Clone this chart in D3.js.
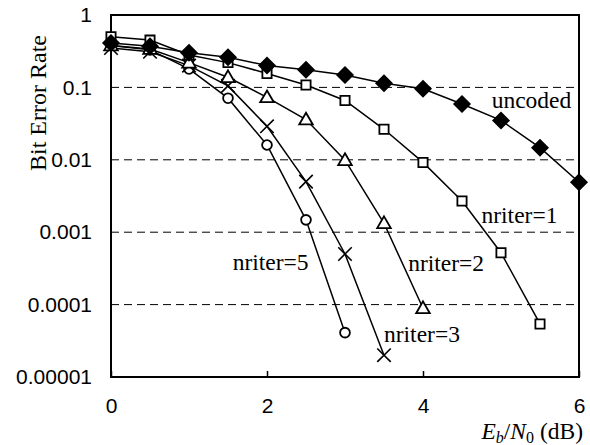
<!DOCTYPE html>
<html>
<head>
<meta charset="utf-8">
<script src="https://cdn.jsdelivr.net/npm/d3@7"></script>
<style>
body { margin: 0; background: #fff; }
svg { display: block; }
</style>
</head>
<body>
<svg width="590" height="445"></svg>
<script>
// data
var ebno = [0, 0.5, 1, 1.5, 2, 2.5, 3, 3.5, 4, 4.5, 5, 5.5, 6];
var uncoded = [0.41, 0.37, 0.30, 0.26, 0.20, 0.175, 0.148, 0.114, 0.096, 0.059, 0.035, 0.0147, 0.0049];
var nriter1 = [0.50, 0.45, 0.28, 0.22, 0.156, 0.108, 0.066, 0.0264, 0.0092, 0.0027, 0.00052, 0.000054];
var nriter2 = [0.38, 0.34, 0.22, 0.138, 0.073, 0.036, 0.0099, 0.00133, 0.000089];
var nriter3 = [0.35, 0.31, 0.20, 0.105, 0.029, 0.005, 0.0005, 0.00002];
var nriter5 = [0.38, 0.33, 0.18, 0.071, 0.016, 0.00148, 0.000041];
var yTicks = [1, 0.1, 0.01, 0.001, 0.0001, 0.00001];
var yTickLabels = ["1", "0.1", "0.01", "0.001", "0.0001", "0.00001"];
var xTicks = [0, 2, 4, 6];

var svg = d3.select("svg");
var pLeft = 111, pRight = 579, pTop = 15, pBottom = 377;

var x = d3.scaleLinear().domain([0, 6]).range([pLeft, pRight]);
var y = d3.scaleLog().domain([0.00001, 1]).range([pBottom, pTop]);

// dashed grid lines
svg.selectAll(".grid")
  .data([0.1, 0.01, 0.001, 0.0001])
  .enter().append("line")
  .attr("x1", pLeft).attr("x2", pRight)
  .attr("y1", d => y(d)).attr("y2", d => y(d))
  .attr("stroke", "#000")
  .attr("stroke-width", 1)
  .attr("stroke-dasharray", "8,5");

// y axis labels
svg.append("g")
  .attr("transform", "translate(" + pLeft + ",0)")
  .call(d3.axisLeft(y).tickValues(yTicks).tickSize(0).tickPadding(19)
    .tickFormat((d, i) => yTickLabels[i]))
  .call(g => g.select(".domain").remove())
  .selectAll("text")
  .attr("font-family", "Liberation Sans, Arial, sans-serif")
  .attr("font-size", 21)
  .attr("fill", "#000");

// x axis: inward ticks, labels below
svg.append("g")
  .attr("transform", "translate(0," + pBottom + ")")
  .call(d3.axisBottom(x).tickValues(xTicks).tickSize(-6).tickPadding(21).tickFormat(d3.format("d")))
  .call(g => g.select(".domain").remove())
  .call(g => g.selectAll("line").attr("stroke", "#000").attr("stroke-width", 1.5))
  .selectAll("text")
  .attr("font-family", "Liberation Sans, Arial, sans-serif")
  .attr("font-size", 21)
  .attr("fill", "#000");

// frame
svg.append("rect")
  .attr("x", pLeft).attr("y", pTop)
  .attr("width", pRight - pLeft).attr("height", pBottom - pTop)
  .attr("fill", "none")
  .attr("stroke", "#000")
  .attr("stroke-width", 2);

var line = d3.line()
  .x((d, i) => x(ebno[i]))
  .y(d => y(d));

var series = [
  {name: "uncoded", vals: uncoded, mark: "diamond"},
  {name: "nriter1", vals: nriter1, mark: "square"},
  {name: "nriter2", vals: nriter2, mark: "triangle"},
  {name: "nriter3", vals: nriter3, mark: "cross"},
  {name: "nriter5", vals: nriter5, mark: "circle"}
];

var symbols = {
  diamond: d3.symbol().type(d3.symbolSquare).size(120),
  square: d3.symbol().type(d3.symbolSquare).size(85),
  triangle: d3.symbol().type(d3.symbolTriangle).size(80),
  cross: d3.symbol().type(d3.symbolTimes).size(120),
  circle: d3.symbol().type(d3.symbolCircle).size(75)
};

series.forEach(function(s) {
  svg.append("path")
    .datum(s.vals)
    .attr("d", line)
    .attr("fill", "none")
    .attr("stroke", "#000")
    .attr("stroke-width", 1.5);
});

series.slice().reverse().forEach(function(s) {
  svg.selectAll(".m-" + s.name)
    .data(s.vals)
    .enter().append("path")
    .attr("d", symbols[s.mark])
    .attr("transform", function(d, i) {
      var t = "translate(" + x(ebno[i]) + "," + y(d) + ")";
      if (s.mark == "diamond") t += " rotate(45)";
      if (s.mark == "triangle") t += " translate(0,1)";
      return t;
    })
    .attr("fill", s.mark == "diamond" ? "#000" : (s.mark == "cross" ? "none" : "#fff"))
    .attr("stroke", "#000")
    .attr("stroke-width", s.mark == "cross" ? 1.6 : 1.8);
});

// curve labels (left edge / baseline in data units)
var labels = [
  {t: "uncoded", x: 4.88, y: 0.052},
  {t: "nriter=1", x: 4.75, y: 0.00133},
  {t: "nriter=2", x: 3.81, y: 0.000294},
  {t: "nriter=3", x: 3.5, y: 0.0000307},
  {t: "nriter=5", x: 1.56, y: 0.000297}
];
svg.selectAll(".lab")
  .data(labels)
  .enter().append("text")
  .attr("x", d => x(d.x))
  .attr("y", d => y(d.y))
  .attr("font-family", "Liberation Serif, Times New Roman, serif")
  .attr("font-size", 23.5)
  .text(d => d.t);

// axis titles
var xt = svg.append("text")
  .attr("x", 583).attr("y", 439)
  .attr("text-anchor", "end")
  .attr("font-family", "Liberation Serif, Times New Roman, serif")
  .attr("font-size", 23.5);
xt.append("tspan").attr("font-style", "italic").text("E");
xt.append("tspan").attr("font-style", "italic").attr("font-size", 16).attr("dy", 4).text("b");
xt.append("tspan").attr("dy", -4).text("/");
xt.append("tspan").attr("font-style", "italic").text("N");
xt.append("tspan").attr("font-size", 16).attr("dy", 4).text("0");
xt.append("tspan").attr("dy", -4).text(" (dB)");

svg.append("text")
  .attr("transform", "translate(46,103) rotate(-90)")
  .attr("text-anchor", "middle")
  .attr("font-family", "Liberation Serif, Times New Roman, serif")
  .attr("font-size", 24)
  .text("Bit Error Rate");
</script>
</body>
</html>
